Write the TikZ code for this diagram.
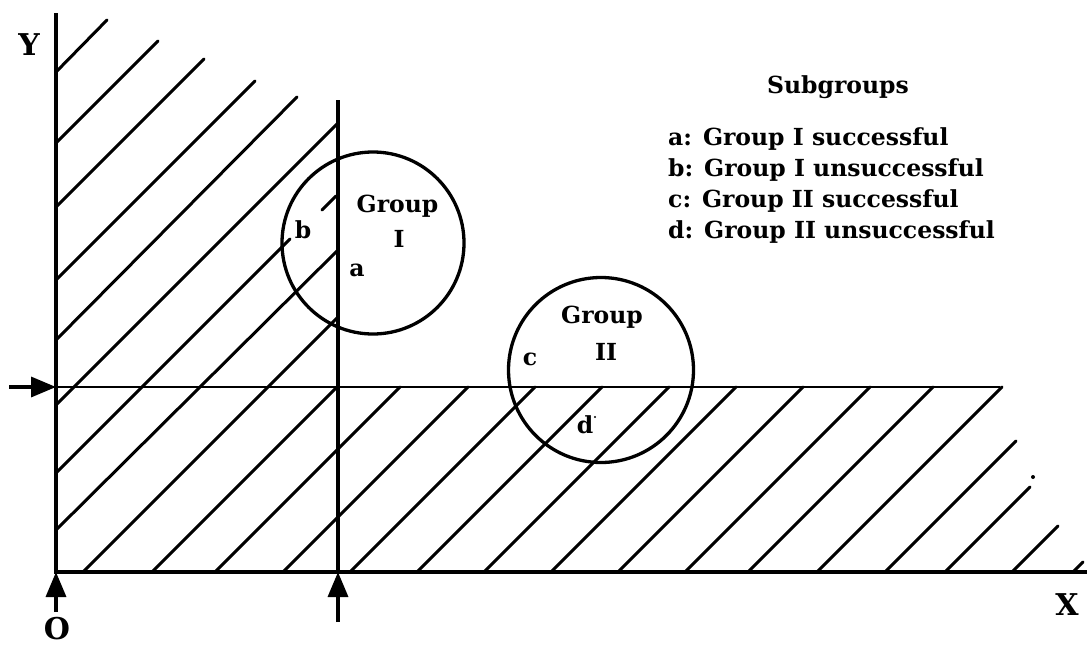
\documentclass[tikz,border=0pt]{standalone}
\usepackage{fontspec}
\setmainfont{DejaVu Serif}
\usetikzlibrary{arrows.meta}
\begin{document}
\begin{tikzpicture}[x=1pt,y=-1pt,
  axis/.style={line width=3.4pt},
  hatch/.style={line width=3pt, line cap=round},
  ring/.style={circle, draw, line width=3.3pt, inner sep=0pt},
  lbl/.style={font=\fontsize{23.5}{30}\selectfont\bfseries, anchor=base, inner sep=0pt},
  leg/.style={font=\fontsize{23.5}{30}\selectfont\bfseries, anchor=base west, inner sep=0pt},
  axlbl/.style={font=\fontsize{30}{34}\selectfont\bfseries, anchor=center, inner sep=0pt},
  arr/.style={line width=3.4pt, -{Triangle[length=25pt,width=20pt]}}]
\useasboundingbox (0,0) rectangle (1090,648);
% key points
\coordinate (O) at (56,572);
\coordinate (Ytop) at (56,13);
\coordinate (Xend) at (1087,572);
\coordinate (Vtop) at (338,100);
\coordinate (Vbot) at (338,572);
\coordinate (Hl) at (56,387);
\coordinate (Hr) at (1000,387);
\coordinate (Hin) at (9,387);
\coordinate (Oin) at (56,612);
\coordinate (Vin) at (338,622);
% hatching
\foreach \a/\b/\c/\d in {56/72/107/20, 56/143/158/41, 56/207/204/59, 56/280/255/81,
  56/340/297/97, 56/405/338/123, 56/473/290/239, 322/210/336/196, 56/530/338/250,
  83/572/338/317, 152/572/338/386, 885/572/1016/441, 945/572/1030/487,
  1012/572/1058/526, 1073/572/1083/562}
  \draw[hatch] (\a,\b) -- (\c,\d);
\foreach \x in {215,283,350,417,484,551,618,685,748,817}
  \draw[hatch] (\x,572) -- ({\x+185},387);
\fill (1033,477) circle (2pt);
\fill (595,417) circle (1.2pt);
% axes and lines
\draw[axis] (Ytop) -- (O) -- (Xend);
\draw[axis] (Vtop) -- (Vbot);
\draw[line width=2.8pt] (Hl) -- (Hr);
\draw[arr] (Hin) -- (Hl);
\draw[arr] (Oin) -- (O);
\draw[arr] (Vin) -- (Vbot);
% circles
\node[ring, minimum size=182pt] (G1) at (373,243) {};
\node[ring, minimum size=185pt] (G2) at (601,370) {};
% labels
\node[lbl] (g1a) at (397.5,212) {Group};
\node[lbl] (g1b) at (399,247) {I};
\node[lbl] (sb) at (303,238) {b};
\node[lbl] (sa) at (357,276) {a};
\node[lbl] (g2a) at (602,323) {Group};
\node[lbl] (g2b) at (606,360) {II};
\node[lbl] (sc) at (530,365) {c};
\node[lbl] (sd) at (585,433) {d};
\node[axlbl] (ly) at (29,45) {Y};
\node[axlbl] (lx) at (1067,605) {X};
\node[axlbl] (lo) at (57,629) {O};
% legend
\node[lbl] (sub) at (838,93) {Subgroups};
\node[leg] (la) at (668,145) {a: Group I successful};
\node[leg] (lb) at (668,176) {b: Group I unsuccessful};
\node[leg] (lc) at (668,207) {c: Group II successful};
\node[leg] (ld) at (668,238) {d: Group II unsuccessful};
\end{tikzpicture}
\end{document}
